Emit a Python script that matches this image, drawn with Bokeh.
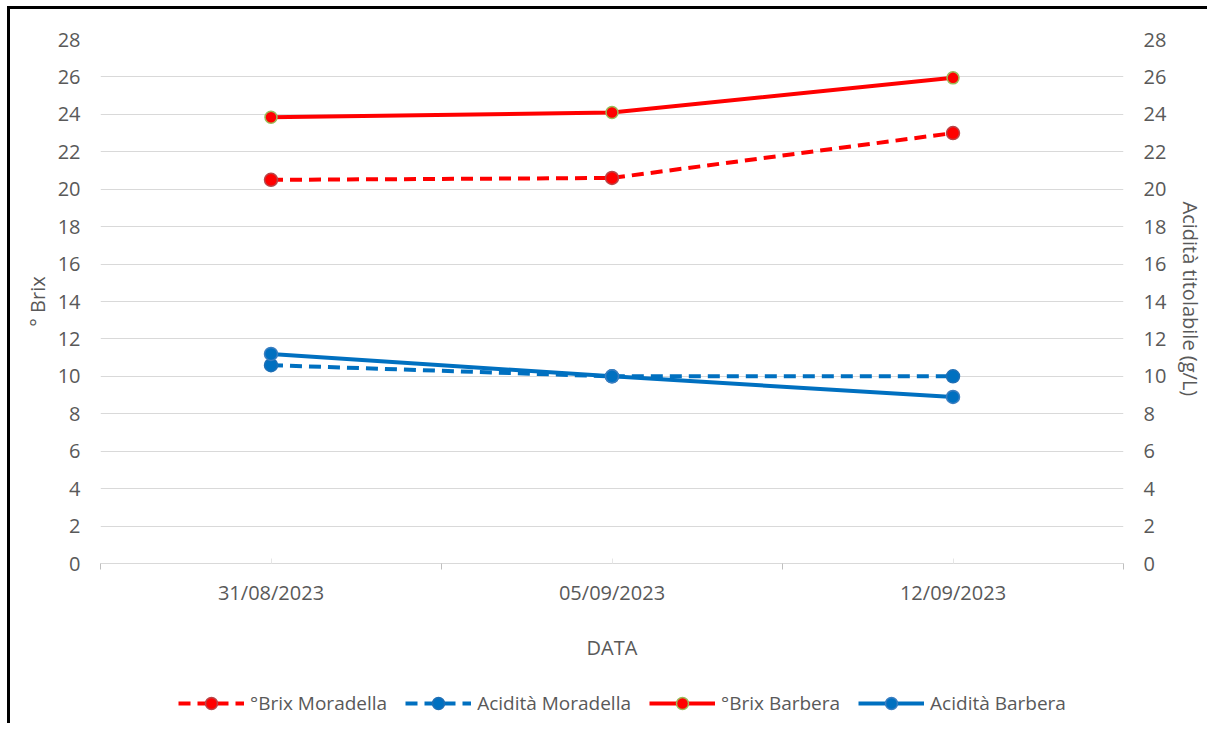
from bokeh.plotting import figure
from bokeh.layouts import column
from bokeh.models import (Range1d, LinearAxis, FixedTicker, Legend, LegendItem)
from bokeh.embed import file_html
from bokeh.resources import INLINE

dates = ["31/08/2023", "05/09/2023", "12/09/2023"]
brix_moradella = [20.5, 20.6, 23.0]
acid_moradella = [10.6, 10.0, 10.0]
brix_barbera = [23.85, 24.1, 25.95]
acid_barbera = [11.2, 10.0, 8.9]
y_ticks = list(range(0, 29, 2))

x = [i + 0.5 for i in range(len(dates))]

FONT = "Open Sans"
GREY = "#595959"
RED = "#ff0000"
BLUE = "#0070c0"

W, H = 1197, 664
p = figure(width=W, height=H, output_backend="svg", toolbar_location=None,
           x_range=Range1d(0, len(dates)), y_range=Range1d(0, 28),
           min_border_left=90, min_border_right=W - 1113,
           min_border_top=30, min_border_bottom=H - 554,
           y_axis_location=None, x_axis_location=None)
p.outline_line_color = None
p.background_fill_color = "white"
p.border_fill_color = "white"

# x axis
xa = LinearAxis(ticker=FixedTicker(ticks=x, minor_ticks=list(range(len(dates) + 1))),
                major_label_overrides={xi: d for xi, d in zip(x, dates)})
xa.axis_label = "DATA"
xa.axis_line_color = "#d9d9d9"
xa.major_tick_in = 5
xa.major_tick_out = 0
xa.major_tick_line_color = "#e6e6e6"
xa.minor_tick_in = 0
xa.minor_tick_out = 6
xa.minor_tick_line_color = "#bfbfbf"
xa.major_label_text_font = FONT
xa.major_label_text_font_size = "20px"
xa.major_label_text_color = GREY
xa.major_label_standoff = 9
xa.axis_label_text_font = FONT
xa.axis_label_text_font_size = "20px"
xa.axis_label_text_font_style = "normal"
xa.axis_label_text_color = GREY
xa.axis_label_standoff = 25
p.add_layout(xa, "below")

for side, title, ls, ts in [("left", "° Brix", 14, 4), ("right", "Acidità  titolabile (g/L)", 14, 8)]:
    ya = LinearAxis(ticker=FixedTicker(ticks=y_ticks))
    ya.axis_label = title
    ya.axis_line_color = None
    ya.major_tick_line_color = None
    ya.minor_tick_line_color = None
    ya.major_label_text_font = FONT
    ya.major_label_text_font_size = "20px"
    ya.major_label_text_color = GREY
    ya.major_label_standoff = ls
    ya.axis_label_text_font = FONT
    ya.axis_label_text_font_size = "20px"
    ya.axis_label_text_font_style = "normal"
    ya.axis_label_text_color = GREY
    ya.axis_label_standoff = ts
    p.add_layout(ya, side)

p.xgrid.visible = False
p.ygrid.ticker = FixedTicker(ticks=y_ticks)
p.ygrid.grid_line_color = "#d9d9d9"

# legend strip (frame is aligned with the main plot's frame by the column layout)
q = figure(width=W, height=50, output_backend="svg", toolbar_location=None,
           x_range=Range1d(0, len(dates)), y_range=Range1d(0, 28),
           min_border=0, x_axis_location=None, y_axis_location=None)
q.outline_line_color = None
q.grid.visible = False
q.background_fill_color = "white"
q.border_fill_color = "white"

items = []
series = [
    ("°Brix Moradella", brix_moradella, RED, "12 7", "#b8474a", 13),
    ("Acidità Moradella", acid_moradella, BLUE, "12 7", "#1f6fb5", 13),
    ("°Brix Barbera", brix_barbera, RED, "solid", "#9bbb59", 12),
    ("Acidità Barbera", acid_barbera, BLUE, "solid", "#3b7ec0", 13),
]
for name, vals, col, dash, mcol, msize in series:
    p.line(x, vals, line_color=col, line_width=4, line_dash=dash)
    p.scatter(x, vals, marker="circle", size=msize, fill_color=col,
              line_color=mcol, line_width=1.5)
    # hidden copies, only used to draw the legend glyphs
    l1 = q.line(x, vals, line_color=col, line_width=4, line_dash=dash, visible=False)
    l2 = q.scatter(x, vals, marker="circle", size=msize, fill_color=col,
                   line_color=mcol, line_width=1.5, visible=False)
    items.append(LegendItem(label=name, renderers=[l1, l2]))

leg = Legend(items=items, orientation="horizontal", location=(78, 5))
leg.label_text_font = FONT
leg.label_text_font_size = "19px"
leg.label_text_color = GREY
leg.glyph_width = 66
leg.glyph_height = 30
leg.label_height = 30
leg.label_standoff = 6
leg.spacing = 18
leg.padding = 0
leg.margin = 0
leg.inactive_fill_alpha = 0
leg.border_line_color = None
leg.background_fill_alpha = 0
q.add_layout(leg, "center")

layout = column(p, q, spacing=0,
                styles={"border-left": "3px solid black", "border-top": "3px solid black",
                        "margin-left": "7px", "margin-top": "6px"})

open("out.html", "w").write(file_html(layout, INLINE))
